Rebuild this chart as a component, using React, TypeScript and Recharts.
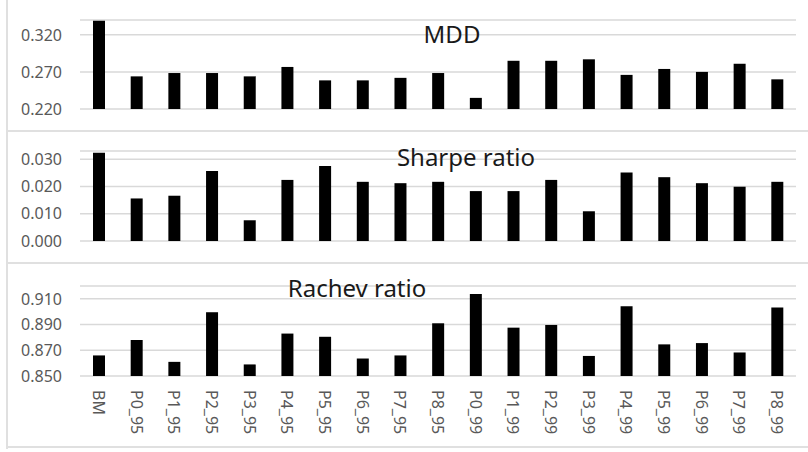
import React from 'react';
import { BarChart, Bar, XAxis, YAxis, CartesianGrid } from 'recharts';

const categories = [
  'BM', 'P0_95', 'P1_95', 'P2_95', 'P3_95', 'P4_95', 'P5_95', 'P6_95', 'P7_95', 'P8_95',
  'P0_99', 'P1_99', 'P2_99', 'P3_99', 'P4_99', 'P5_99', 'P6_99', 'P7_99', 'P8_99',
];
const mddValues = [
  0.339, 0.264, 0.2685, 0.2685, 0.264, 0.2767, 0.2586, 0.2586, 0.262, 0.2685,
  0.235, 0.285, 0.285, 0.287, 0.266, 0.274, 0.270, 0.281, 0.260,
];
const sharpeValues = [
  0.0324, 0.0156, 0.0166, 0.0257, 0.0076, 0.0224, 0.0275, 0.0217, 0.0212, 0.0217,
  0.0183, 0.0183, 0.0224, 0.0109, 0.0251, 0.0234, 0.0212, 0.0199, 0.0217,
];
const rachevValues = [
  0.866, 0.878, 0.861, 0.8996, 0.859, 0.883, 0.8805, 0.8636, 0.866, 0.891,
  0.9137, 0.8876, 0.8897, 0.8656, 0.9043, 0.8746, 0.8756, 0.8683, 0.9032,
];
const mddTicks = [0.22, 0.27, 0.32];
const sharpeTicks = [0, 0.01, 0.02, 0.03];
const rachevTicks = [0.85, 0.87, 0.89, 0.91];

const FONT = "'Noto Sans', sans-serif";
const GRID = '#d9d9d9';
const LABEL = '#595959';

const mddData = categories.map((name, i) => ({ name, value: mddValues[i] }));
const sharpeData = categories.map((name, i) => ({ name, value: sharpeValues[i] }));
const rachevData = categories.map((name, i) => ({ name, value: rachevValues[i] }));

const RotatedTick = (props: any) => {
  const { x, y, payload } = props;
  return (
    <text
      transform={`translate(${x},${y}) rotate(90)`}
      textAnchor="start"
      dominantBaseline="central"
      fill={LABEL}
      fontSize={16}
      fontFamily={FONT}
    >
      {payload.value}
    </text>
  );
};

const yTick = { fill: LABEL, fontSize: 16, fontFamily: FONT };

const Panel = ({ data, domain, ticks, height, margin, showX }: any) => (
  <BarChart width={808} height={height} data={data} margin={margin}>
    <CartesianGrid vertical={false} stroke={GRID} strokeWidth={1.5} />
    <XAxis
      dataKey="name"
      hide={!showX}
      interval={0}
      axisLine={false}
      tickLine={false}
      tickSize={0}
      tickMargin={14}
      height={60}
      tick={<RotatedTick />}
    />
    <YAxis
      width={80}
      domain={domain}
      ticks={ticks}
      allowDataOverflow
      axisLine={false}
      tickLine={false}
      tickSize={0}
      tickMargin={18}
      tick={yTick}
      tickFormatter={(v: number) => v.toFixed(3)}
    />
    <Bar dataKey="value" fill="#000" barSize={12} isAnimationActive={false} />
  </BarChart>
);

const line = (top: number) => (
  <div style={{ position: 'absolute', left: 7, top, width: 801, height: 2, background: '#e0e0e0' }} />
);

export default function App() {
  return (
    <div style={{ position: 'absolute', left: 0, top: 0, width: 808, height: 452, background: '#fff', overflow: 'hidden' }}>
      <div style={{ position: 'absolute', left: 0, top: 0 }}>
        <Panel data={mddData} domain={[0.22, 0.34]} ticks={mddTicks} height={131}
          margin={{ top: 20, right: 12, left: 0, bottom: 22 }} />
      </div>
      <div style={{ position: 'absolute', left: 0, top: 131 }}>
        <Panel data={sharpeData} domain={[0, 0.033]} ticks={sharpeTicks} height={132}
          margin={{ top: 20, right: 12, left: 0, bottom: 22 }} />
      </div>
      <div style={{ position: 'absolute', left: 0, top: 263 }}>
        <Panel data={rachevData} domain={[0.85, 0.92]} ticks={rachevTicks} height={189}
          margin={{ top: 23, right: 12, left: 0, bottom: 16 }} showX />
      </div>
      <div style={{ position: 'absolute', left: 6, top: 0, width: 2, height: 449, background: '#e0e0e0' }} />
      {line(130)}
      {line(262)}
      {line(446)}
      <svg width={808} height={452} style={{ position: 'absolute', left: 0, top: 0, pointerEvents: 'none' }}>
        <g fontFamily={FONT} fontSize={24} fill="#1a1a1a" textAnchor="middle">
          <text x={452} y={43}>MDD</text>
          <text x={466} y={166}>Sharpe ratio</text>
          <text x={357} y={297}>Rachev ratio</text>
        </g>
      </svg>
    </div>
  );
}
